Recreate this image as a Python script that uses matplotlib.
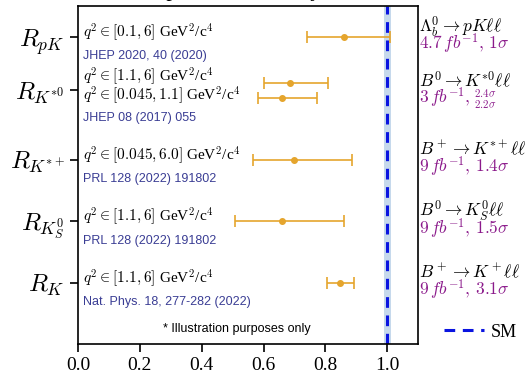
import matplotlib.pyplot as plt

plt.rcParams['font.family'] = 'serif'
plt.rcParams['font.serif'] = ['Liberation Serif', 'DejaVu Serif']
plt.rcParams['mathtext.fontset'] = 'cm'

# measurements (bottom to top)
labels = [r'$R_K$', r'$R_{K^0_S}$', r'$R_{K^{*+}}$', r'$R_{K^{*0}}$', r'$R_{pK}$']
tick_pos = [0, 1, 2, 3.125, 4]

point_y = [0, 1, 2, 3.0, 3.25, 4]
point_x = [0.846, 0.66, 0.70, 0.66, 0.685, 0.86]
err_lo = [0.041, 0.152, 0.135, 0.077, 0.085, 0.12]
err_hi = [0.046, 0.200, 0.185, 0.114, 0.125, 0.15]

q2_text = [r'$q^2 \in [1.1, 6]$ GeV$^2$/c$^4$',
           r'$q^2 \in [1.1, 6]$ GeV$^2$/c$^4$',
           r'$q^2 \in [0.045, 6.0]$ GeV$^2$/c$^4$',
           r'$q^2 \in [1.1, 6]$ GeV$^2$/c$^4$' + '\n' + r'$q^2 \in [0.045, 1.1]$ GeV$^2$/c$^4$',
           r'$q^2 \in [0.1, 6]$ GeV$^2$/c$^4$']
refs = ['Nat. Phys. 18, 277-282 (2022)', 'PRL 128 (2022) 191802', 'PRL 128 (2022) 191802',
        'JHEP 08 (2017) 055', 'JHEP 2020, 40 (2020)']
decays = [r'$B^+\to K^+\ell\ell$', r'$B^0\to K^0_S\ell\ell$', r'$B^+\to K^{*+}\ell\ell$',
          r'$B^0\to K^{*0}\ell\ell$', r'$\Lambda^0_b\to pK\ell\ell$']
lumi = [r'$9\,fb^{-1},\,3.1\sigma$', r'$9\,fb^{-1},\,1.5\sigma$', r'$9\,fb^{-1},\,1.4\sigma$',
        r'$3\,fb^{-1},$', r'$4.7\,fb^{-1},\,1\sigma$']

fig = plt.figure(figsize=(5.3, 3.72), dpi=100)
ax = fig.add_axes([0.147, 0.075, 0.642, 0.909])

orange = '#e5a52d'
ax.errorbar(point_x, point_y, xerr=[err_lo, err_hi], fmt='o', color=orange,
            ms=4, elinewidth=1.2, capsize=4, capthick=1.2)

ax.axvspan(0.988, 1.012, color='#c6d9ec', lw=0)
ax.axvline(1.0, color='#0a14e0', ls='--', lw=2.2, dashes=(3.5, 2.5), label='SM')

ax.set_xlim(0, 1.1)
ax.set_ylim(-1, 4.5)
ax.set_xticks([0.0, 0.2, 0.4, 0.6, 0.8, 1.0])
ax.set_xticklabels(['0.0', '0.2', '0.4', '0.6', '0.8', '1.0'])
ax.set_yticks(tick_pos)
ax.set_yticklabels(labels, fontsize=18)
ax.tick_params(axis='x', labelsize=14, length=6, width=1.2)
ax.tick_params(axis='y', length=6, width=1.2)
for s in ax.spines.values():
    s.set_linewidth(1.2)

ref_col = '#3a3d94'
purple = '#8b1a8b'
for i, y in enumerate(tick_pos):
    ax.text(0.015, y + 0.08, q2_text[i], fontsize=11, va='center', ha='left', linespacing=0.85)
    dy = 0.45 if i == 3 else 0.32
    ax.text(0.015, y - dy, refs[i], fontsize=9, color=ref_col, va='center', ha='left',
            family='Liberation Sans')
    ax.text(1.103, y + 0.17, decays[i], fontsize=12.5, va='center', ha='left', clip_on=False)
    ax.text(1.103, y - 0.12, lumi[i], fontsize=12.5, color=purple, va='center', ha='left', clip_on=False)

# stacked significances for K*0
ax.text(1.28, 3.125 - 0.04, r'$2.4\sigma$', fontsize=8, color=purple, va='center', ha='left',
        clip_on=False)
ax.text(1.28, 3.125 - 0.22, r'$2.2\sigma$', fontsize=8, color=purple, va='center', ha='left',
        clip_on=False)

ax.text(0.515, -0.75, '* Illustration purposes only', fontsize=9, ha='center', va='center',
        family='Liberation Sans')

ax.legend(loc='center left', bbox_to_anchor=(1.055, 0.035), frameon=False, fontsize=13,
          handlelength=2.2, handletextpad=0.4, borderaxespad=0)

fig.text(321 / 530, 1.012, 'Lepton Universality', fontsize=16, ha='right', va='baseline')

plt.savefig('out.png', dpi=100)
